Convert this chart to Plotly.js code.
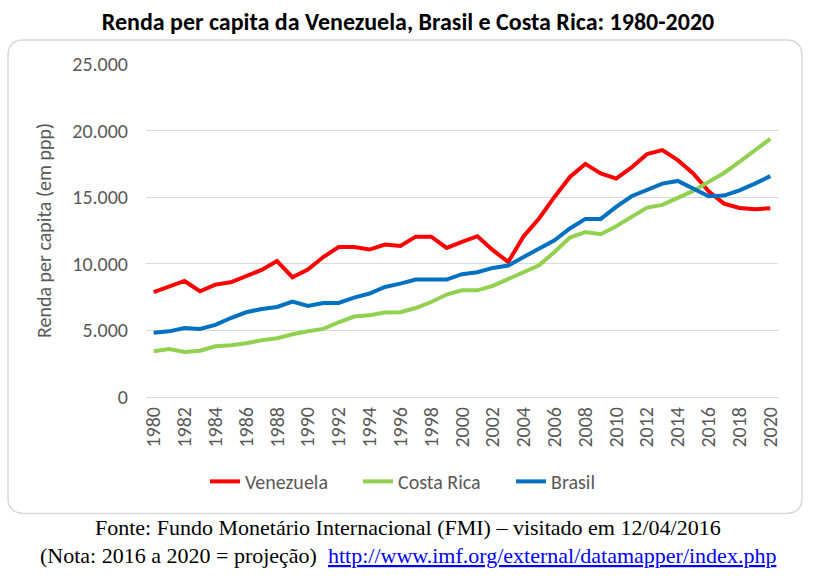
<!DOCTYPE html>
<html>
<head>
<meta charset="utf-8">
<script src="https://cdn.plot.ly/plotly-3.0.1.min.js"></script>
<style>html,body{margin:0;padding:0;background:#fff;}#chart{width:816px;height:578px;}</style>
</head>
<body>
<div id="chart"></div>
<script>
const years = [1980,1981,1982,1983,1984,1985,1986,1987,1988,1989,1990,1991,1992,1993,1994,1995,1996,1997,1998,1999,2000,2001,2002,2003,2004,2005,2006,2007,2008,2009,2010,2011,2012,2013,2014,2015,2016,2017,2018,2019,2020];
const venezuela = [7880,8310,8710,7940,8440,8610,9090,9540,10210,8990,9570,10510,11260,11260,11070,11440,11340,12040,12040,11190,11640,12070,11020,10140,12070,13400,15020,16520,17500,16780,16400,17230,18230,18530,17780,16780,15450,14520,14190,14100,14170];
const costaRica = [3430,3600,3380,3480,3810,3880,4030,4260,4410,4710,4930,5110,5610,6040,6140,6340,6360,6680,7130,7690,8010,8010,8340,8840,9310,9890,10890,11970,12380,12220,12820,13520,14220,14420,14980,15470,16150,16820,17650,18530,19380];
const brasil = [4830,4930,5180,5110,5410,5930,6360,6610,6760,7160,6830,7060,7060,7460,7770,8260,8510,8820,8820,8820,9220,9370,9690,9870,10510,11120,11770,12650,13370,13370,14270,15070,15520,16020,16220,15620,15070,15120,15520,16020,16580];
const tickYears = [1980,1982,1984,1986,1988,1990,1992,1994,1996,1998,2000,2002,2004,2006,2008,2010,2012,2014,2016,2018,2020];
const yTicks = [0,5000,10000,15000,20000,25000];

const W = 816, H = 578;
const L = 146, R = 778, T = 64, B = 396.7;
function px(x){return (x - L)/(R - L);}
function py(y){return (B - y)/(B - T);}
function roundRect(x0,y0,x1,y1,r){
  const X0=px(x0),X1=px(x1),Y0=py(y0),Y1=py(y1);
  const rx=r/(R-L), ry=r/(B-T);
  return `M ${X0+rx},${Y0} L ${X1-rx},${Y0} Q ${X1},${Y0} ${X1},${Y0-ry} L ${X1},${Y1+ry} Q ${X1},${Y1} ${X1-rx},${Y1} L ${X0+rx},${Y1} Q ${X0},${Y1} ${X0},${Y1+ry} L ${X0},${Y0-ry} Q ${X0},${Y0} ${X0+rx},${Y0} Z`;
}

const gray = '#595959';
const sans = 'Carlito, Lato, "Open Sans", sans-serif';
const serif = '"Liberation Serif", "Times New Roman", serif';
const traces = [
  {x: years, y: venezuela, name: 'Venezuela', type: 'scatter', mode: 'lines', line: {color: '#ff0000', width: 4}},
  {x: years, y: costaRica, name: 'Costa Rica', type: 'scatter', mode: 'lines', line: {color: '#92d050', width: 4}},
  {x: years, y: brasil, name: 'Brasil', type: 'scatter', mode: 'lines', line: {color: '#0070c0', width: 4}}
];

const layout = {
  width: W, height: H,
  margin: {l: L, r: W - R, t: T, b: H - B},
  paper_bgcolor: '#ffffff', plot_bgcolor: '#ffffff',
  separators: ',.',
  font: {family: sans, color: gray},
  title: {text: '<b>Renda per capita da Venezuela, Brasil e Costa Rica: 1980-2020</b>', x: px(408), xref: 'paper', xanchor: 'center', y: 1 - 22/H, yanchor: 'middle', font: {size: 24, color: '#000000', family: sans}},
  xaxis: {range: [1979.5, 2020.5], tickmode: 'array', tickvals: tickYears, ticktext: tickYears.map(String), tickangle: -90, tickfont: {size: 20, color: gray}, showgrid: false, zeroline: false, showline: false, ticks: '', ticklabelstandoff: 5, fixedrange: true},
  yaxis: {range: [0, 25000], tickmode: 'array', tickvals: yTicks, tickformat: ',d', tickfont: {size: 20, color: gray}, gridcolor: '#d9d9d9', gridwidth: 1, zeroline: true, zerolinecolor: '#d9d9d9', zerolinewidth: 1, showline: false, ticks: '', ticklabelstandoff: 17,
    title: {text: 'Renda per capita (em ppp)', font: {size: 20, color: gray}, standoff: 15}, fixedrange: true},
  showlegend: true,
  legend: {orientation: 'h', x: px(205), xanchor: 'left', y: py(481), yanchor: 'middle', font: {size: 20, color: gray}, bgcolor: 'rgba(0,0,0,0)', entrywidth: 108, entrywidthmode: 'pixels'},
  shapes: [
    {type: 'path', xref: 'paper', yref: 'paper', path: roundRect(8, 40, 802, 513, 16), line: {color: '#d9d9d9', width: 1.5}, fillcolor: 'rgba(0,0,0,0)', layer: 'below'}
  ],
  annotations: [
    {xref: 'paper', yref: 'paper', x: px(408), y: py(527), xanchor: 'center', yanchor: 'middle', showarrow: false,
     text: 'Fonte: Fundo Monetário Internacional (FMI) – visitado em 12/04/2016', font: {family: serif, size: 22, color: '#000000'}},
    {xref: 'paper', yref: 'paper', x: px(408), y: py(555), xanchor: 'center', yanchor: 'middle', showarrow: false,
     text: '(Nota: 2016 a 2020 = projeção)&nbsp;&nbsp;<span style="text-decoration:underline;fill:#0000ff;">http://www.imf.org/external/datamapper/index.php</span>', font: {family: serif, size: 22, color: '#000000'}}
  ]
};

Plotly.newPlot('chart', traces, layout, {displayModeBar: false, staticPlot: true});
</script>
</body>
</html>
